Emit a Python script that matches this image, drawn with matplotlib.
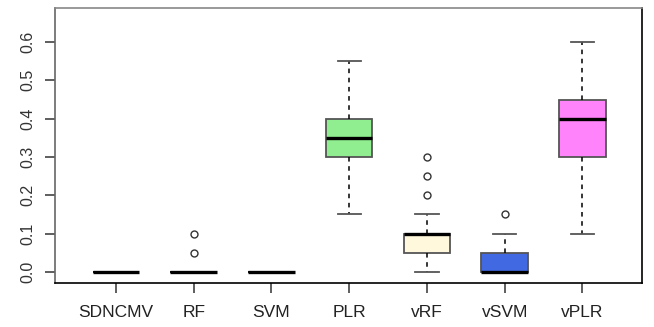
import numpy as np
import matplotlib.pyplot as plt

plt.rcParams['font.family'] = ['Liberation Sans', 'DejaVu Sans']

methods = ['SDNCMV', 'RF', 'SVM', 'PLR', 'vRF', 'vSVM', 'vPLR']
whislo = [0.0, 0.0, 0.0, 0.15, 0.0, 0.0, 0.10]
q1 = [0.0, 0.0, 0.0, 0.30, 0.05, 0.0, 0.30]
med = [0.0, 0.0, 0.0, 0.35, 0.10, 0.0, 0.40]
q3 = [0.0, 0.0, 0.0, 0.40, 0.10, 0.05, 0.45]
whishi = [0.0, 0.0, 0.0, 0.55, 0.15, 0.10, 0.60]
fliers = [[], [0.05, 0.10], [], [], [0.20, 0.25, 0.30], [0.15], []]
box_colors = ['white', 'white', 'white', '#90ee90', '#fff8dc', '#4169e1', '#ff83fa']

stats = []
for i in range(len(methods)):
    stats.append(dict(label=methods[i], whislo=whislo[i], q1=q1[i], med=med[i],
                      q3=q3[i], whishi=whishi[i], fliers=fliers[i]))

fig = plt.figure(figsize=(6.54, 3.27), dpi=100)
ax = fig.add_axes([0.084, 0.1346, 0.898, 0.841])

bp = ax.bxp(stats, positions=np.arange(1, 8), widths=0.6, patch_artist=True,
            boxprops=dict(edgecolor='#555555', linewidth=1.3),
            medianprops=dict(color='black', linewidth=2.4, solid_capstyle='butt'),
            whiskerprops=dict(color='black', linestyle=(0, (3, 3)), linewidth=1.1),
            capprops=dict(color='#555555', linewidth=1.3),
            capwidths=0.3,
            flierprops=dict(marker='o', markerfacecolor='none', markeredgecolor='#333333',
                            markersize=5, markeredgewidth=1.0))
for patch, c in zip(bp['boxes'], box_colors):
    patch.set_facecolor(c)
# zero-height boxes show only the median line
for i in range(3):
    bp['boxes'][i].set_edgecolor('black')

ax.set_xlim(0.215, 7.77)
ax.set_ylim(-0.029, 0.689)
ax.set_yticks([0.0, 0.1, 0.2, 0.3, 0.4, 0.5, 0.6])
ax.set_yticklabels(['0.0', '0.1', '0.2', '0.3', '0.4', '0.5', '0.6'],
                   rotation=90, va='center', fontsize=11.5, color='#333333')
ax.set_xticklabels(methods, fontsize=12.5, color='#222222')
ax.tick_params(axis='both', length=7, width=1.1, color='#333333')
ax.tick_params(axis='x', pad=9)
ax.tick_params(axis='y', pad=7)

ax.spines['left'].set_color('#666666')
ax.spines['top'].set_color('#888888')
ax.spines['right'].set_color('black')
ax.spines['bottom'].set_color('black')
for s in ax.spines.values():
    s.set_linewidth(1.2)

plt.savefig('out.png', dpi=100)
